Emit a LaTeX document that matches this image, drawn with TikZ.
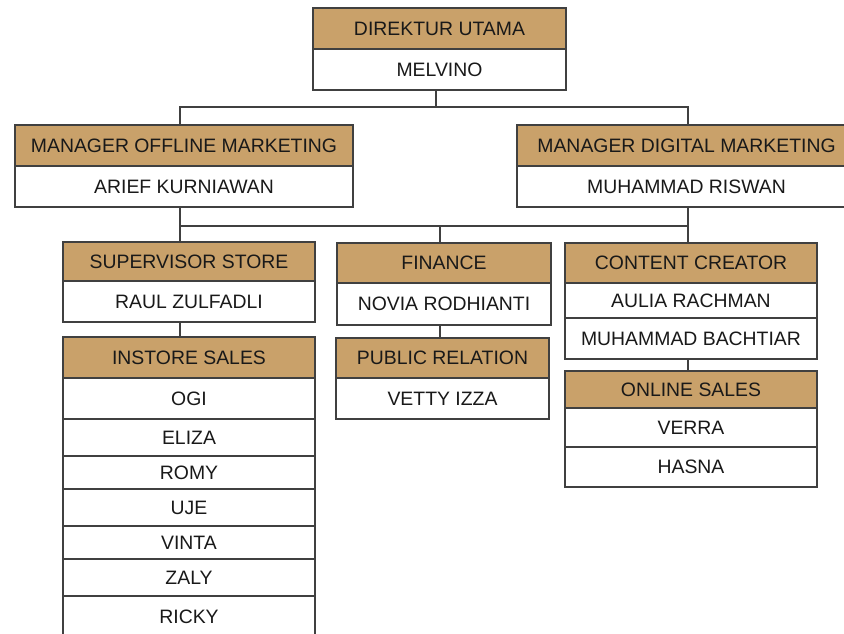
\documentclass[tikz,border=0pt]{standalone}
\usepackage{fontspec}
\setmainfont{Liberation Sans}
\definecolor{tan}{RGB}{201,161,106}
\definecolor{linec}{RGB}{64,64,64}
\definecolor{txt}{RGB}{25,25,25}
\newcommand\orgcell[7]{\node[#2,minimum width={#5pt-#3pt},minimum height={#6pt-#4pt}] (#1) at (#3,#4) {#7};}
\tikzset{
  cell/.style={draw=linec, line width=1.3pt, inner sep=0pt, outer sep=0pt, anchor=north west,
    font=\fontsize{19.4}{23}\selectfont, text=txt, text height=13.9pt, text depth=0pt},
  hdr/.style={cell, fill=tan},
  row/.style={cell, fill=white},
  link/.style={draw=linec, line width=1.3pt},
}
\begin{document}
\begin{tikzpicture}[x=1pt,y=-1pt]
\useasboundingbox (0,0) rectangle (844,634);
\clip (0,0) rectangle (844,634);
\fill[white] (0,0) rectangle (844,634);
% top
\orgcell{dir}{hdr}{313}{8}{566}{49}{DIREKTUR UTAMA}
\orgcell{dirn}{row}{313}{49}{566}{90}{MELVINO}
% managers
\orgcell{mo}{hdr}{15}{125}{353}{166}{MANAGER OFFLINE MARKETING}
\orgcell{mon}{row}{15}{166}{353}{207}{ARIEF KURNIAWAN}
\orgcell{md}{hdr}{517}{125}{856}{166}{MANAGER DIGITAL MARKETING}
\orgcell{mdn}{row}{517}{166}{856}{207}{MUHAMMAD RISWAN}
% supervisor / instore
\orgcell{ss}{hdr}{63}{242}{315}{281}{SUPERVISOR STORE}
\orgcell{ssn}{row}{63}{281}{315}{322}{RAUL ZULFADLI}
\orgcell{is}{hdr}{63}{337}{315}{378}{INSTORE SALES}
\orgcell{is1}{row}{63}{378}{315}{419}{OGI}
\orgcell{is2}{row}{63}{419}{315}{456}{ELIZA}
\orgcell{is3}{row}{63}{456}{315}{489}{ROMY}
\orgcell{is4}{row}{63}{489}{315}{526}{UJE}
\orgcell{is5}{row}{63}{526}{315}{559}{VINTA}
\orgcell{is6}{row}{63}{559}{315}{596}{ZALY}
\orgcell{is7}{row}{63}{596}{315}{637}{RICKY}
% finance / PR
\orgcell{fin}{hdr}{337}{243}{551}{283}{FINANCE}
\orgcell{finn}{row}{337}{283}{551}{325}{NOVIA RODHIANTI}
\orgcell{pr}{hdr}{336}{338}{549}{378}{PUBLIC RELATION}
\orgcell{prn}{row}{336}{378}{549}{419}{VETTY IZZA}
% content / online
\orgcell{cc}{hdr}{565}{243}{817}{283}{CONTENT CREATOR}
\orgcell{cc1}{row}{565}{283}{817}{318}{AULIA RACHMAN}
\orgcell{cc2}{row}{565}{318}{817}{359}{MUHAMMAD BACHTIAR}
\orgcell{os}{hdr}{565}{371}{817}{408}{ONLINE SALES}
\orgcell{os1}{row}{565}{408}{817}{447}{VERRA}
\orgcell{os2}{row}{565}{447}{817}{487}{HASNA}
% junctions
\coordinate (tm) at (436,107);
\coordinate (tl) at (180,107);
\coordinate (tr) at (688,107);
\coordinate (bl) at (180,226);
\coordinate (bm) at (440,226);
\coordinate (br) at (688,226);
% connectors
\draw[link] (dirn.south -| tm) -- (tm);
\draw[link] (tl |- mo.north) -- (tl) -- (tr) -- (tr |- md.north);
\draw[link] (bl |- mon.south) -- (bl) -- (br) -- (br |- mdn.south);
\draw[link] (bl) -- (bl |- ss.north);
\draw[link] (bm) -- (bm |- fin.north);
\draw[link] (br) -- (br |- cc.north);
\draw[link] (ssn.south -| bl) -- (is.north -| bl);
\draw[link] (finn.south -| bm) -- (pr.north -| bm);
\draw[link] (cc2.south -| br) -- (os.north -| br);
\end{tikzpicture}
\end{document}
